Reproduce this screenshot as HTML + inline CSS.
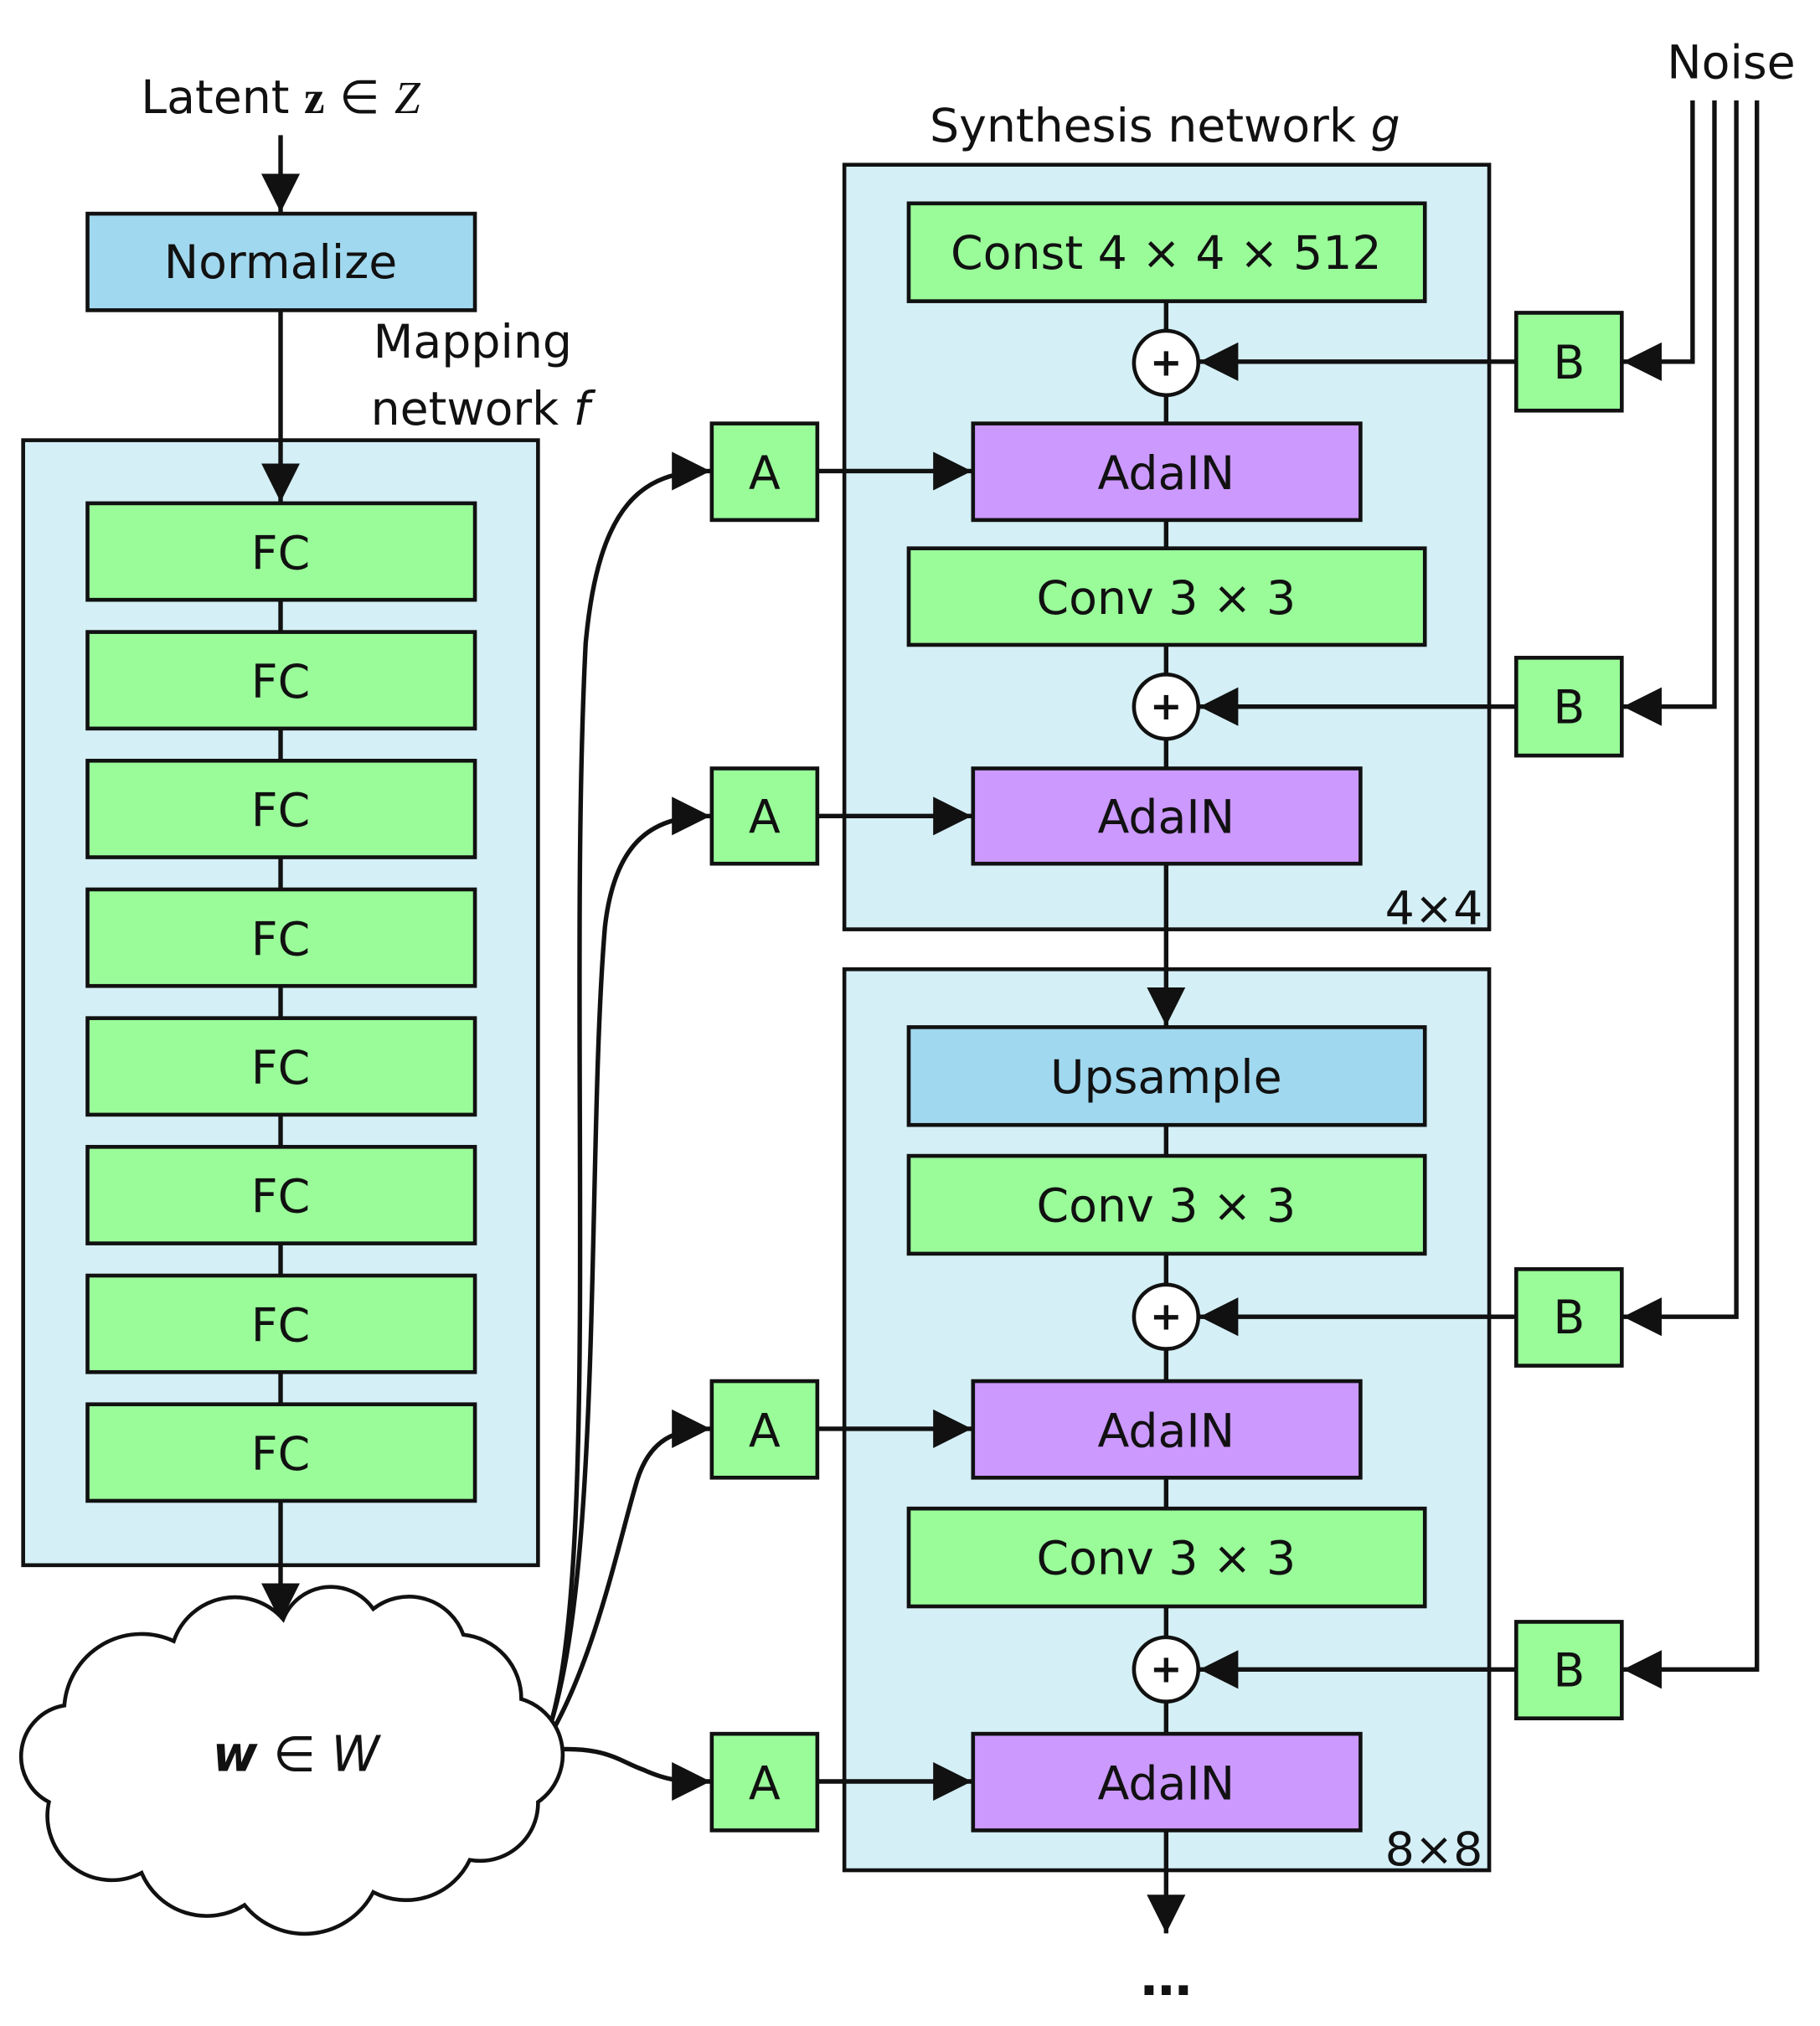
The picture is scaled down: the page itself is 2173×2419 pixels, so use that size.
<!DOCTYPE html>
<html><head><meta charset="utf-8"><style>
html,body{margin:0;padding:0;background:#fff}
svg{display:block}
text{font-family:"DejaVu Sans","Liberation Sans",sans-serif;fill:#111}
</style></head><body>
<svg width="2173" height="2419" viewBox="0 0 1414 1574" preserveAspectRatio="none" xmlns="http://www.w3.org/2000/svg">
<defs>
<marker id="ar" viewBox="0 0 10 10" refX="10" refY="5" markerWidth="30" markerHeight="30" markerUnits="userSpaceOnUse" orient="auto">
<path d="M0,0 L10,5 L0,10 Z" fill="#111"/></marker>
</defs>
<g stroke="#111" stroke-width="3">
<rect x="18" y="342" width="400" height="874" fill="#d4eff6"/>
<rect x="656" y="128" width="501" height="594" fill="#d4eff6"/>
<rect x="656" y="753" width="501" height="700" fill="#d4eff6"/>
</g>
<g stroke="#111" stroke-width="3.5" fill="none">
<line x1="218" y1="105" x2="218" y2="165" marker-end="url(#ar)"/>
<line x1="218" y1="241" x2="218" y2="390" marker-end="url(#ar)"/>
<line x1="218" y1="466" x2="218" y2="1091"/>
<line x1="218" y1="1166" x2="218" y2="1260" marker-end="url(#ar)"/>
<line x1="906" y1="234" x2="906" y2="597"/>
<line x1="906" y1="671" x2="906" y2="797" marker-end="url(#ar)"/>
<line x1="906" y1="874" x2="906" y2="1347"/>
<line x1="906" y1="1422" x2="906" y2="1502" marker-end="url(#ar)"/>
<line x1="635" y1="366" x2="755" y2="366" marker-end="url(#ar)"/>
<line x1="635" y1="634" x2="755" y2="634" marker-end="url(#ar)"/>
<line x1="635" y1="1110" x2="755" y2="1110" marker-end="url(#ar)"/>
<line x1="635" y1="1384" x2="755" y2="1384" marker-end="url(#ar)"/>
<line x1="1178" y1="281" x2="932" y2="281" marker-end="url(#ar)"/>
<line x1="1178" y1="549" x2="932" y2="549" marker-end="url(#ar)"/>
<line x1="1178" y1="1023" x2="932" y2="1023" marker-end="url(#ar)"/>
<line x1="1178" y1="1297" x2="932" y2="1297" marker-end="url(#ar)"/>
<polyline points="1315,78 1315,281 1261,281" marker-end="url(#ar)"/>
<polyline points="1332,78 1332,549 1261,549" marker-end="url(#ar)"/>
<polyline points="1349,78 1349,1023 1261,1023" marker-end="url(#ar)"/>
<polyline points="1365,78 1365,1297 1261,1297" marker-end="url(#ar)"/>
<path d="M420,1360 C470,1260 440,800 455,500 C465,390 500,366 552,366" marker-end="url(#ar)"/>
<path d="M420,1360 C470,1250 455,900 470,720 C478,650 510,634 552,634" marker-end="url(#ar)"/>
<path d="M420,1360 C460,1300 480,1200 495,1150 C505,1118 525,1110 552,1110" marker-end="url(#ar)"/>
<path d="M420,1360 C470,1355 480,1368 500,1375 C520,1384 530,1384 552,1384" marker-end="url(#ar)"/>
</g>
<path d="M50,1325 A60,60 0 0 1 135,1275 A50,50 0 0 1 220,1258 A40,40 0 0 1 290,1250 A45,45 0 0 1 360,1270 A50,50 0 0 1 405,1320 A45,45 0 0 1 418,1400 A45,45 0 0 1 365,1445 A55,55 0 0 1 290,1470 A60,60 0 0 1 190,1480 A55,55 0 0 1 110,1455 A50,50 0 0 1 38,1400 A40,40 0 0 1 50,1325 Z" fill="#fff" stroke="#111" stroke-width="3"/>
<g stroke="#111" stroke-width="3">
<rect x="68" y="166" width="301" height="75" fill="#a0d8ef"/>
<g fill="#99fc99">
<rect x="68" y="391" width="301" height="75"/><rect x="68" y="491" width="301" height="75"/>
<rect x="68" y="591" width="301" height="75"/><rect x="68" y="691" width="301" height="75"/>
<rect x="68" y="791" width="301" height="75"/><rect x="68" y="891" width="301" height="75"/>
<rect x="68" y="991" width="301" height="75"/><rect x="68" y="1091" width="301" height="75"/>
<rect x="706" y="158" width="401" height="76"/>
<rect x="706" y="426" width="401" height="75"/>
<rect x="706" y="898" width="401" height="76"/>
<rect x="706" y="1172" width="401" height="76"/>
<rect x="553" y="329" width="82" height="75"/><rect x="553" y="597" width="82" height="74"/>
<rect x="553" y="1073" width="82" height="75"/><rect x="553" y="1347" width="82" height="75"/>
<rect x="1178" y="243" width="82" height="76"/><rect x="1178" y="511" width="82" height="76"/>
<rect x="1178" y="986" width="82" height="75"/><rect x="1178" y="1260" width="82" height="75"/>
</g>
<rect x="706" y="798" width="401" height="76" fill="#a0d8ef"/>
<g fill="#cc99ff">
<rect x="756" y="329" width="301" height="75"/><rect x="756" y="597" width="301" height="74"/>
<rect x="756" y="1073" width="301" height="75"/><rect x="756" y="1347" width="301" height="75"/>
</g>
<g fill="#fff">
<circle cx="906" cy="282" r="25"/><circle cx="906" cy="549" r="25"/>
<circle cx="906" cy="1023" r="25"/><circle cx="906" cy="1297" r="25"/>
</g>
</g>
<g font-size="36" text-anchor="middle">
<text x="218" y="88">Latent <tspan font-weight="bold" font-family="Liberation Serif">z</tspan> ∈ <tspan font-style="italic" font-family="Liberation Serif">Z</tspan></text>
<text x="218" y="216">Normalize</text>
<text x="905" y="110">Synthesis network <tspan font-style="italic">g</tspan></text>
<text x="1345" y="61">Noise</text>
<text x="218" y="442">FC</text><text x="218" y="542">FC</text><text x="218" y="642">FC</text><text x="218" y="742">FC</text>
<text x="218" y="842">FC</text><text x="218" y="942">FC</text><text x="218" y="1042">FC</text><text x="218" y="1142">FC</text>
<text x="906" y="209">Const 4 × 4 × 512</text>
<text x="906" y="380">AdaIN</text><text x="906" y="477">Conv 3 × 3</text><text x="906" y="647">AdaIN</text>
<text x="906" y="849">Upsample</text><text x="906" y="949">Conv 3 × 3</text>
<text x="906" y="1124">AdaIN</text><text x="906" y="1223">Conv 3 × 3</text><text x="906" y="1398">AdaIN</text>
<text x="594" y="380">A</text><text x="594" y="647">A</text><text x="594" y="1124">A</text><text x="594" y="1398">A</text>
<text x="1219" y="294">B</text><text x="1219" y="562">B</text><text x="1219" y="1036">B</text><text x="1219" y="1310">B</text>
<text x="230" y="1376" font-family="Liberation Serif" font-size="38"><tspan font-style="italic" font-weight="bold">w</tspan> ∈ <tspan font-style="italic">W</tspan></text>
<text x="906" y="1550" font-size="40" font-weight="bold">…</text>
</g>
<g font-size="36">
<text x="290" y="278">Mapping</text>
<text x="288" y="330">network <tspan font-style="italic">f</tspan></text>
<text x="1152" y="718" text-anchor="end">4×4</text>
<text x="1152" y="1449" text-anchor="end">8×8</text>
</g>
<g font-size="30" text-anchor="middle" font-weight="bold">
<text x="906" y="292">+</text><text x="906" y="559">+</text><text x="906" y="1033">+</text><text x="906" y="1307">+</text>
</g>
</svg>
</body></html>
